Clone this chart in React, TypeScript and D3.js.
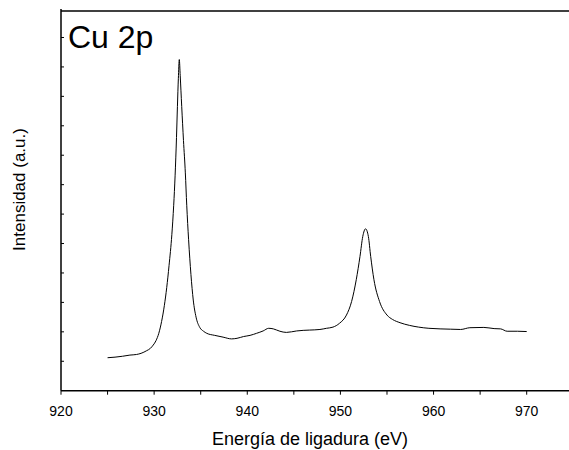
import React from "react";
import * as d3 from "d3";

// XPS Cu 2p spectrum
const energy = [
  925.0, 925.8, 926.6, 927.4, 928.1, 928.6, 929.2, 929.6, 929.9, 930.2, 930.5,
  930.8, 931.1, 931.35, 931.6, 931.9, 932.1, 932.25, 932.4, 932.5, 932.6, 932.7,
  932.8, 932.96, 933.15, 933.35, 933.5, 933.7, 933.95, 934.2, 934.5, 934.9,
  935.3, 935.65, 936.5, 937.4, 938.3, 938.9, 939.6, 940.3, 941.0, 941.7, 942.3,
  942.8, 943.5, 944.2, 945.3, 946.0, 946.7, 947.8, 948.5, 949.2, 949.9, 950.65,
  951.2, 951.7, 952.1, 952.4, 952.7, 953.0, 953.25, 953.6, 954.2, 955.0, 955.6,
  956.4, 957.4, 958.4, 959.5, 960.7, 961.8, 962.9, 963.9, 965.4, 966.5, 967.2,
  967.9, 969.0, 970.0,
];
const intensity = [
  1.12, 1.14, 1.17, 1.21, 1.23, 1.27, 1.36, 1.44, 1.55, 1.7, 1.95, 2.35, 2.9,
  3.5, 4.25, 5.3, 6.3, 7.3, 8.6, 9.66, 10.6, 11.25, 10.7, 9.66, 8.5, 7.4, 6.3,
  5.13, 3.95, 3.08, 2.5, 2.15, 2.02, 1.95, 1.88, 1.82, 1.76, 1.78, 1.84, 1.88,
  1.95, 2.03, 2.12, 2.1, 2.02, 1.98, 2.03, 2.05, 2.06, 2.08, 2.12, 2.16, 2.29,
  2.57, 3.03, 3.77, 4.56, 5.24, 5.5, 5.24, 4.56, 3.77, 3.03, 2.57, 2.42, 2.31,
  2.22, 2.16, 2.12, 2.1, 2.09, 2.08, 2.14, 2.15, 2.11, 2.1, 2.02, 2.02, 2.01,
];
const xTicks = [920, 930, 940, 950, 960, 970];
const xMinorTicks = [925, 935, 945, 955, 965, 975];
const yTicks = [1, 2, 3, 4, 5, 6, 7, 8, 9, 10, 11, 12];

const W = 569;
const H = 450;
const left = 61;
const top = 11;
const bottom = 390.7;
const font = "'Liberation Sans', Arial, sans-serif";

export default function App() {
  const x = d3.scaleLinear().domain([920, 975]).range([left, left + 55 * 9.314]);
  const y = d3.scaleLinear().domain([0, 12.9]).range([bottom, top]);

  const points = energy.map((e, i) => [e, intensity[i]] as [number, number]);
  const line = d3
    .line<[number, number]>()
    .x((d) => x(d[0]))
    .y((d) => y(d[1]))
    .curve(d3.curveMonotoneX);

  return (
    <svg
      width={W}
      height={H}
      style={{ position: "absolute", left: 0, top: 0, background: "#fff" }}
      fontFamily={font}
    >
      {/* frame: top line and left axis */}
      <line x1={left} x2={W} y1={top} y2={top} stroke="#000" strokeWidth={1.3} />
      <line x1={left} x2={left} y1={top - 2} y2={bottom} stroke="#000" strokeWidth={1.5} />
      <line x1={left} x2={W} y1={bottom} y2={bottom} stroke="#000" strokeWidth={1.6} />

      {yTicks.map((t) => (
        <line key={t} x1={left} x2={left + 3} y1={y(t)} y2={y(t)} stroke="#000" strokeWidth={1} />
      ))}
      {[...xTicks, ...xMinorTicks].map((t) => (
        <line key={t} x1={x(t)} x2={x(t)} y1={bottom} y2={bottom + 4} stroke="#000" strokeWidth={1} />
      ))}
      {xTicks.map((t) => (
        <text key={t} x={x(t)} y={416} textAnchor="middle" fontSize={14} fill="#000">
          {t}
        </text>
      ))}

      <path d={line(points) ?? ""} fill="none" stroke="#000" strokeWidth={1} />

      <text x={68} y={48} fontSize={32} fill="#000">
        Cu 2p
      </text>
      <text x={310} y={445} textAnchor="middle" fontSize={18} fill="#000">
        Energía de ligadura (eV)
      </text>
      <text
        transform="translate(25,189.5) rotate(-90)"
        textAnchor="middle"
        fontSize={17}
        fill="#000"
      >
        Intensidad (a.u.)
      </text>
    </svg>
  );
}
